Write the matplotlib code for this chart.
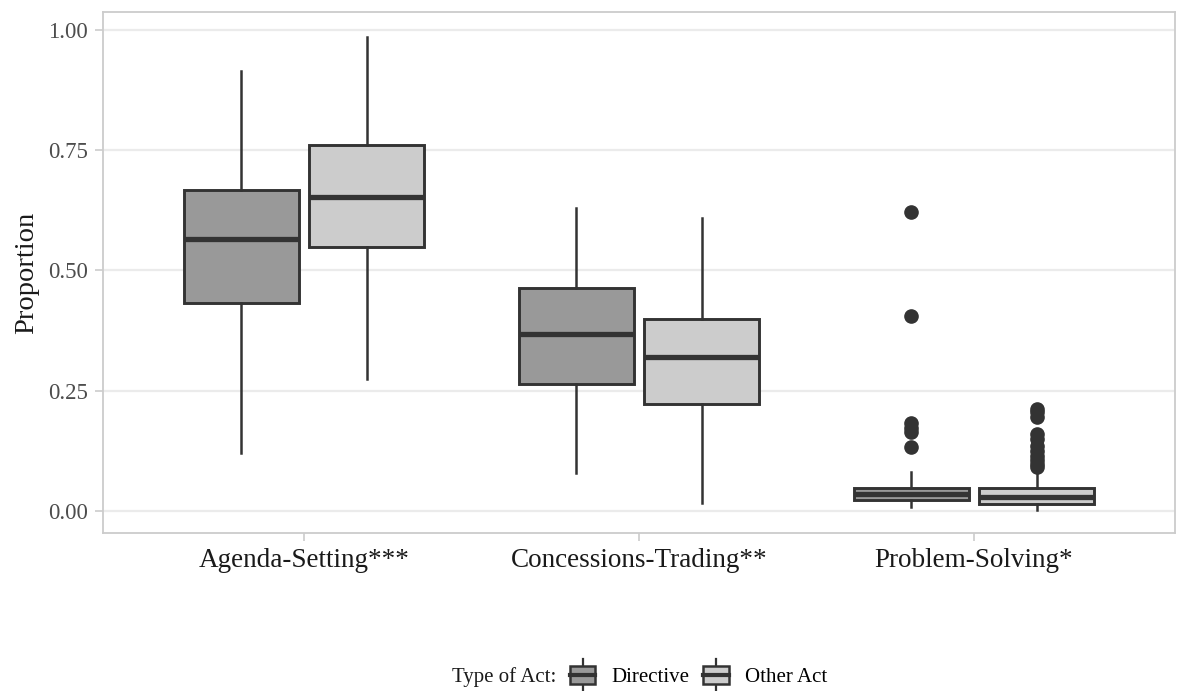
import matplotlib
matplotlib.use("Agg")
import matplotlib.pyplot as plt
from matplotlib.patches import Rectangle
from matplotlib.lines import Line2D
from matplotlib.legend_handler import HandlerBase

plt.rcParams["font.family"] = ["Liberation Serif", "DejaVu Serif"]

categories = ["Agenda-Setting***", "Concessions-Trading**", "Problem-Solving*"]
groups = ["Directive", "Other Act"]
group_colors = ["#999999", "#cccccc"]

# Box summaries per category: (whisker low, q1, median, q3, whisker high)
directive_stats = [
    (0.121, 0.433, 0.565, 0.667, 0.915),
    (0.079, 0.264, 0.368, 0.463, 0.630),
    (0.009, 0.022, 0.036, 0.048, 0.082),
]
other_stats = [
    (0.274, 0.548, 0.652, 0.760, 0.985),
    (0.017, 0.222, 0.320, 0.399, 0.609),
    (0.002, 0.014, 0.030, 0.048, 0.086),
]
directive_outliers = [[], [], [0.621, 0.406, 0.183, 0.172, 0.165, 0.134]]
other_outliers = [[], [], [0.213, 0.205, 0.195, 0.160, 0.150, 0.135,
                           0.125, 0.115, 0.105, 0.098, 0.092]]

edge = "#333333"
box_w = 0.3425
offset = 0.1875

fig = plt.figure(figsize=(11.78, 6.91), dpi=100)
ax = fig.add_axes([0.0874, 0.2287, 0.9101, 0.7539])

for gi, (stats, outs, col) in enumerate(
        [(directive_stats, directive_outliers, group_colors[0]),
         (other_stats, other_outliers, group_colors[1])]):
    bxp_stats = []
    positions = []
    for ci, (lo, q1, med, q3, hi) in enumerate(stats):
        bxp_stats.append(dict(whislo=lo, q1=q1, med=med, q3=q3, whishi=hi,
                              fliers=outs[ci]))
        positions.append(ci + 1 + (offset if gi else -offset))
    ax.bxp(bxp_stats, positions=positions, widths=box_w, patch_artist=True,
           showcaps=False,
           boxprops=dict(facecolor=col, edgecolor=edge, linewidth=2.1),
           medianprops=dict(color=edge, linewidth=3.8, solid_capstyle="butt"),
           whiskerprops=dict(color=edge, linewidth=1.8),
           flierprops=dict(marker="o", markerfacecolor=edge, markeredgecolor=edge,
                           markersize=9.5, linestyle="none"),
           zorder=3)

ax.set_xlim(0.4, 3.6)
ax.set_ylim(-0.0457, 1.0374)
ax.set_xticks([1, 2, 3])
ax.set_xticklabels(categories, fontsize=19.5, color="#1a1a1a")
ax.set_yticks([0, 0.25, 0.5, 0.75, 1.0])
ax.set_yticklabels(["0.00", "0.25", "0.50", "0.75", "1.00"], fontsize=16.5,
                   color="#4d4d4d")
ax.set_ylabel("Proportion", fontsize=20.5, color="#1a1a1a", labelpad=6)
ax.tick_params(axis="both", color="#cccccc", length=6, width=1.2)
ax.tick_params(axis="y", pad=5)
ax.tick_params(axis="x", pad=5)
ax.grid(axis="y", color="#ebebeb", linewidth=1.6, zorder=0)
ax.set_axisbelow(True)
for s in ax.spines.values():
    s.set_color("#cccccc")
    s.set_linewidth(1.3)


class BoxKeyHandler(HandlerBase):
    def create_artists(self, legend, orig_handle, xdescent, ydescent,
                       width, height, fontsize, trans):
        fc = orig_handle.get_facecolor()
        x0, y0 = -xdescent, -ydescent
        rect = Rectangle((x0 + width * 0.06, y0 - height * 0.05), width * 0.88,
                         height * 1.1, facecolor=fc, edgecolor=edge, lw=1.8,
                         transform=trans)
        med = Line2D([x0 + width * 0.06, x0 + width * 0.94],
                     [y0 + height * 0.5] * 2, color=edge, lw=3.0, transform=trans)
        w1 = Line2D([x0 + width / 2] * 2, [y0 + height * 1.05, y0 + height * 1.45],
                    color=edge, lw=1.6, transform=trans)
        w2 = Line2D([x0 + width / 2] * 2, [y0 - height * 0.45, y0 - height * 0.05],
                    color=edge, lw=1.6, transform=trans)
        return [w1, w2, rect, med]


legend_y = 1 - 677 / 691
handles = [Rectangle((0, 0), 1, 1, facecolor=c) for c in group_colors]
fig.text(556 / 1178, legend_y, "Type of Act:", fontsize=15, color="#1a1a1a",
         ha="right", va="center")
fig.legend(handles, groups, handler_map={Rectangle: BoxKeyHandler()},
           loc="center left", bbox_to_anchor=(568 / 1178, legend_y), ncol=2,
           frameon=False, fontsize=15, handlelength=1.4, handleheight=0.85,
           handletextpad=0.7, columnspacing=0.55, borderpad=0, borderaxespad=0)

fig.savefig("out.png", dpi=100)
